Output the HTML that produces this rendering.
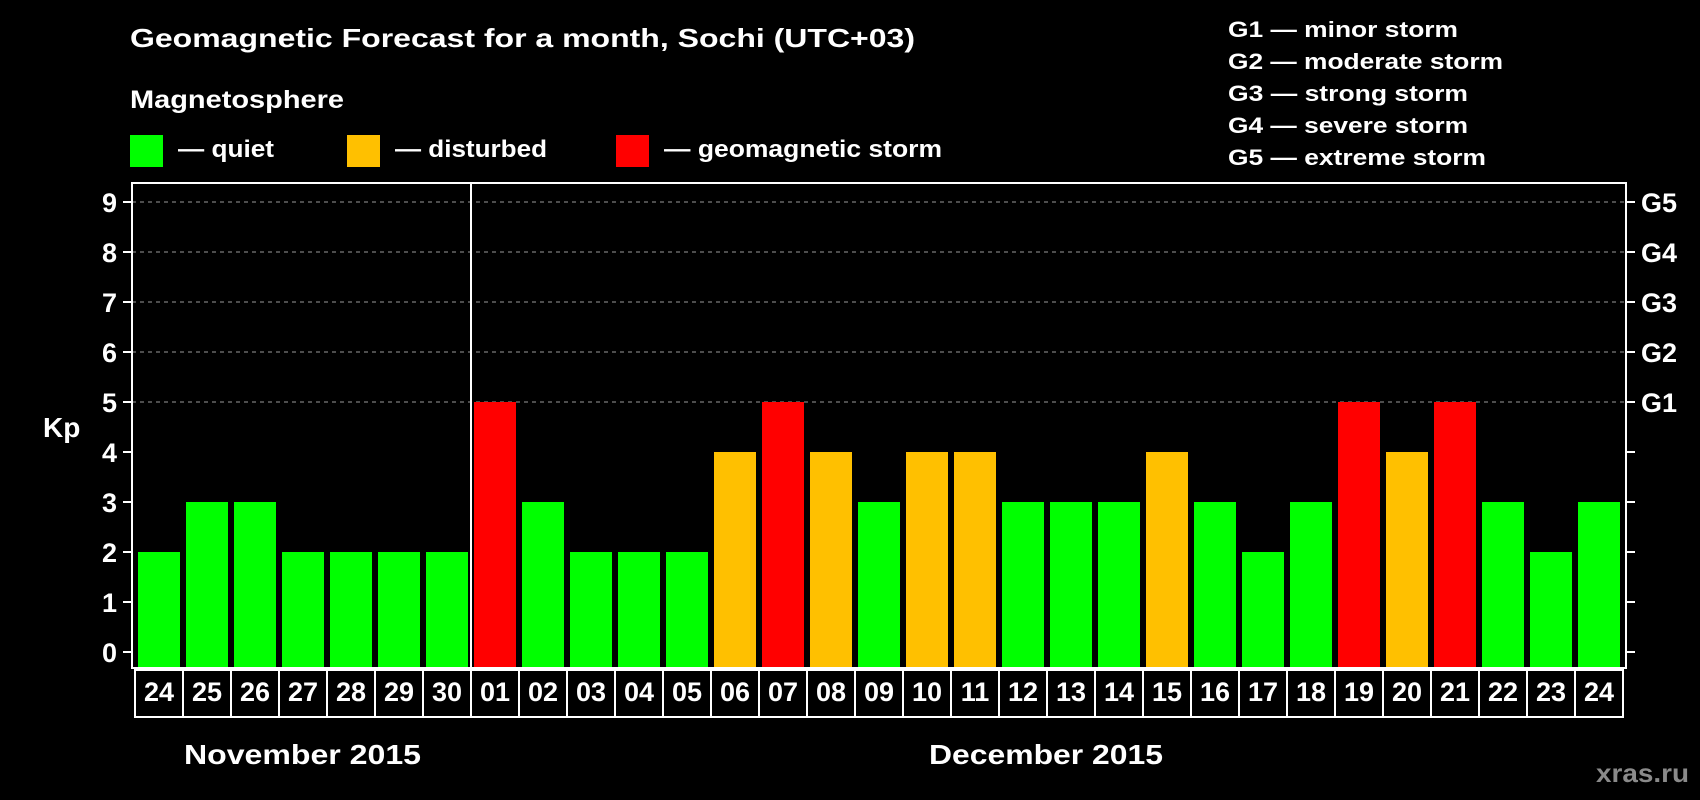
<!DOCTYPE html>
<html><head><meta charset="utf-8"><style>
html,body{margin:0;padding:0;background:#000;width:1700px;height:800px;overflow:hidden}
svg{display:block;font-family:"Liberation Sans",Arial,sans-serif;font-weight:bold}
</style></head><body>
<svg id="chart" width="1700" height="800" viewBox="0 0 1700 800" xmlns="http://www.w3.org/2000/svg">
<rect x="0" y="0" width="1700" height="800" fill="#000"/>
<text x="130" y="47" fill="#fff" font-size="26" textLength="785" lengthAdjust="spacingAndGlyphs">Geomagnetic Forecast for a month, Sochi (UTC+03)</text>
<text x="130" y="108" fill="#fff" font-size="25" textLength="214" lengthAdjust="spacingAndGlyphs">Magnetosphere</text>
<g>
<rect x="130" y="135" width="33" height="32" fill="#00ff00"/>
<text x="178" y="157" fill="#fff" font-size="24" textLength="96" lengthAdjust="spacingAndGlyphs">— quiet</text></g>
<g>
<rect x="347" y="135" width="33" height="32" fill="#ffc000"/>
<text x="395" y="157" fill="#fff" font-size="24" textLength="152" lengthAdjust="spacingAndGlyphs">— disturbed</text></g>
<g>
<rect x="616" y="135" width="33" height="32" fill="#ff0000"/>
<text x="664" y="157" fill="#fff" font-size="24" textLength="278" lengthAdjust="spacingAndGlyphs">— geomagnetic storm</text></g>
<g fill="#fff" font-size="22">
<text x="1228" y="37" textLength="230" lengthAdjust="spacingAndGlyphs">G1 — minor storm</text>
<text x="1228" y="69" textLength="275" lengthAdjust="spacingAndGlyphs">G2 — moderate storm</text>
<text x="1228" y="101" textLength="240" lengthAdjust="spacingAndGlyphs">G3 — strong storm</text>
<text x="1228" y="133" textLength="240" lengthAdjust="spacingAndGlyphs">G4 — severe storm</text>
<text x="1228" y="165" textLength="258" lengthAdjust="spacingAndGlyphs">G5 — extreme storm</text>
</g>
<text x="43" y="437" fill="#fff" font-size="28">Kp</text>
<g id="grid"></g><g id="bars"></g><g id="axes"></g><g id="cells"></g>
<text x="184" y="764" fill="#fff" font-size="28" textLength="237" lengthAdjust="spacingAndGlyphs">November 2015</text>
<text x="929" y="764" fill="#fff" font-size="28" textLength="234" lengthAdjust="spacingAndGlyphs">December 2015</text>
<text x="1596" y="782" fill="#8a8a8a" font-size="26" textLength="93" lengthAdjust="spacingAndGlyphs">xras.ru</text>
</svg>
<script>
const days = ["24","25","26","27","28","29","30","01","02","03","04","05","06","07","08","09","10","11","12","13","14","15","16","17","18","19","20","21","22","23","24"];
const kpValues = [2,3,3,2,2,2,2,5,3,2,2,2,4,5,4,3,4,4,3,3,3,4,3,2,3,5,4,5,3,2,3];
const yTicks = [0,1,2,3,4,5,6,7,8,9];
const gLabels = ["G1","G2","G3","G4","G5"];
const gLevels = [5,6,7,8,9];
const monthSplit = 7;

const NS = "http://www.w3.org/2000/svg";
const L = 132, R = 1626, T = 183, B = 668;
const barStart = 138, pitch = 48, barW = 42, cellStart = 135;
function y(v){ return 652 - 50 * v; }
function xBar(i){ return barStart + i * pitch; }
function mk(tag, attrs, parent){ const e = document.createElementNS(NS, tag); for (const k in attrs) e.setAttribute(k, attrs[k]); parent.appendChild(e); return e; }
function color(v){ return v >= 5 ? "#ff0000" : (v >= 4 ? "#ffc000" : "#00ff00"); }

const grid = document.getElementById("grid");
gLevels.forEach(function(v){
  const ln = mk("line", {x1: L, x2: R, y1: y(v), y2: y(v), stroke: "#9a9a9a", "stroke-width": 1, "stroke-dasharray": "4 4"}, grid);
  
  
});

const bars = document.getElementById("bars");
kpValues.forEach(function(v, i){
  const r = mk("rect", {x: xBar(i), y: y(v), width: barW, height: B - y(v), fill: color(v)}, bars);
  
  
});

const axes = document.getElementById("axes");
const frame = mk("rect", {x: L, y: T, width: R - L, height: B - T, fill: "none", stroke: "#fff", "stroke-width": 2}, axes);


const divX = (xBar(monthSplit - 1) + barW + xBar(monthSplit)) / 2;
const div = mk("line", {x1: divX, x2: divX, y1: T, y2: B, stroke: "#fff", "stroke-width": 2}, axes);


yTicks.forEach(function(v){
  const t = mk("line", {x1: L - 9, x2: L, y1: y(v), y2: y(v), stroke: "#fff", "stroke-width": 2}, axes);
  
  
  const t2 = mk("line", {x1: R, x2: R + 9, y1: y(v), y2: y(v), stroke: "#fff", "stroke-width": 2}, axes);
  
  
  const lb = mk("text", {x: 117, y: y(v) + 10, fill: "#fff", "font-size": 27, "text-anchor": "end"}, axes);
  lb.textContent = String(v);
  
  
});
gLabels.forEach(function(g, k){
  const lb = mk("text", {x: 1641, y: y(gLevels[k]) + 10, fill: "#fff", "font-size": 27}, axes);
  lb.textContent = g;
  
  
});

const cells = document.getElementById("cells");
days.forEach(function(d, i){
  const cx = cellStart + i * pitch;
  const c = mk("rect", {x: cx, y: 670, width: pitch, height: 47, fill: "#000", stroke: "#fff", "stroke-width": 2}, cells);
  
  
  const t = mk("text", {x: cx + pitch / 2, y: 701, fill: "#fff", "font-size": 27, "text-anchor": "middle"}, cells);
  t.textContent = d;
  
  
});
</script>
</body></html>
